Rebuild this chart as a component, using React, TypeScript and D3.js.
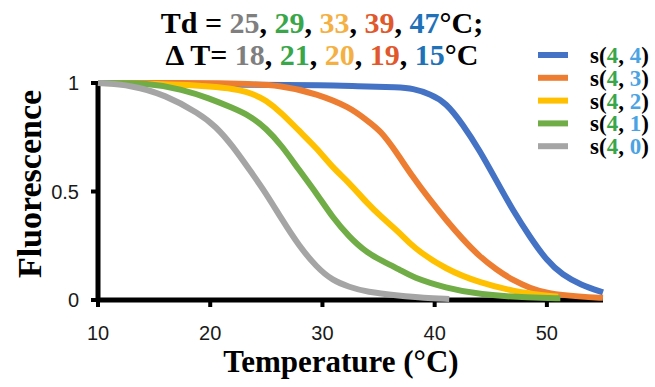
import { useEffect, useRef } from 'react';
import * as d3 from 'd3';

// melting curves
const greyT = [10, 13, 16, 19, 20.5, 22, 23.5, 25, 26.4, 27.9, 29.5, 30.9, 32.4, 33.9, 36.9, 39, 41.3];
const greyV = [1, 0.99, 0.945, 0.86, 0.8, 0.71, 0.6, 0.49, 0.37, 0.25, 0.15, 0.09, 0.06, 0.037, 0.02, 0.01, 0.005];

const greenT = [10, 14.6, 17.5, 19.9, 22, 23.5, 25, 26.4, 27.9, 29.5, 30.9, 32.4, 33.9, 35.3, 36.9, 38, 41, 44, 48.5, 51.2];
const greenV = [1, 1, 0.97, 0.93, 0.885, 0.85, 0.79, 0.71, 0.6, 0.49, 0.38, 0.29, 0.22, 0.18, 0.14, 0.105, 0.055, 0.025, 0.01, 0.008];

const yellowT = [10, 20.5, 23.5, 25, 26.4, 27.9, 29.5, 30.9, 32.4, 33.9, 35.3, 36.9, 38, 41, 44, 47, 50, 51];
const yellowV = [1, 0.99, 0.96, 0.92, 0.86, 0.78, 0.7, 0.61, 0.54, 0.45, 0.38, 0.31, 0.245, 0.14, 0.08, 0.04, 0.02, 0.015];

const orangeT = [10, 22, 26.4, 29.5, 32.4, 33.9, 35.2, 36.6, 38, 39.6, 41, 42.5, 44, 45.5, 47, 48.5, 50, 53, 55];
const orangeV = [1, 1, 0.99, 0.95, 0.89, 0.83, 0.78, 0.68, 0.57, 0.46, 0.37, 0.28, 0.2, 0.14, 0.09, 0.055, 0.03, 0.015, 0.01];

const blueT = [10, 25, 30, 33, 36.9, 38, 39.6, 41, 42.5, 44, 45.5, 47, 48.5, 50, 51.4, 53, 55];
const blueV = [1, 0.99, 0.99, 0.985, 0.98, 0.975, 0.95, 0.91, 0.81, 0.69, 0.55, 0.41, 0.29, 0.18, 0.115, 0.07, 0.035];

const seriesNames = ['s(4, 4)', 's(4, 3)', 's(4, 2)', 's(4, 1)', 's(4, 0)'];
const seriesColors = ['#4472c4', '#ed7d31', '#ffc000', '#70ad47', '#a5a5a5'];
const legendSecond = ['4', '3', '2', '1', '0'];

const tdValues = ['25', '29', '33', '39', '47'];
const dtValues = ['18', '21', '20', '19', '15'];
const titleColors = ['#7f7f7f', '#3aa64a', '#f4b042', '#e0582b', '#1f72b8'];

const xTicks = [10, 20, 30, 40, 50];
const yTicks = [0, 0.5, 1];

const serif = '"Liberation Serif", "Times New Roman", serif';
const sans = '"Liberation Sans", Arial, sans-serif';

function App() {
    const svgRef = useRef(null);
    const width = 655;
    const height = 387;

    useEffect(() => {
        const svg = d3.select(svgRef.current);
        svg.selectAll('*').remove();

        const x = d3.scaleLinear().domain([10, 55]).range([98, 603]);
        const y = d3.scaleLinear().domain([0, 1]).range([300, 83]);

        // axes
        const g = svg.append('g');
        g.append('line')
            .attr('x1', x(10)).attr('x2', x(55))
            .attr('y1', y(0)).attr('y2', y(0))
            .attr('stroke', '#000').attr('stroke-width', 5);
        g.append('line')
            .attr('x1', x(10)).attr('x2', x(10))
            .attr('y1', y(1) - 2).attr('y2', y(0) + 2)
            .attr('stroke', '#000').attr('stroke-width', 5);

        xTicks.forEach(t => {
            g.append('line')
                .attr('x1', x(t)).attr('x2', x(t))
                .attr('y1', y(0)).attr('y2', y(0) + 7)
                .attr('stroke', '#000').attr('stroke-width', 4);
            g.append('text')
                .attr('x', x(t)).attr('y', 340)
                .attr('text-anchor', 'middle')
                .attr('font-family', sans).attr('font-size', 20)
                .attr('fill', '#1a1a1a')
                .text(t);
        });
        yTicks.forEach(t => {
            g.append('line')
                .attr('x1', x(10) - 7).attr('x2', x(10))
                .attr('y1', y(t)).attr('y2', y(t))
                .attr('stroke', '#000').attr('stroke-width', 4);
            g.append('text')
                .attr('x', 79).attr('y', y(t) + 7)
                .attr('text-anchor', 'end')
                .attr('font-family', sans).attr('font-size', 20)
                .attr('fill', '#1a1a1a')
                .text(t);
        });

        // axis titles
        svg.append('text')
            .attr('x', 341).attr('y', 372)
            .attr('text-anchor', 'middle')
            .attr('font-family', serif).attr('font-weight', 'bold').attr('font-size', 31)
            .text('Temperature (°C)');
        svg.append('text')
            .attr('transform', 'translate(41,184) rotate(-90)')
            .attr('text-anchor', 'middle')
            .attr('font-family', serif).attr('font-weight', 'bold').attr('font-size', 34)
            .text('Fluorescence');

        // curves, grey drawn last (on top)
        const curves = [
            [blueT, blueV],
            [orangeT, orangeV],
            [yellowT, yellowV],
            [greenT, greenV],
            [greyT, greyV]
        ];
        const line = d3.line()
            .x(d => x(d[0]))
            .y(d => y(d[1]))
            .curve(d3.curveBasis);
        curves.forEach(([ts, vs], i) => {
            svg.append('path')
                .datum(ts.map((t, j) => [t, vs[j]]))
                .attr('d', line)
                .attr('fill', 'none')
                .attr('stroke', seriesColors[i])
                .attr('stroke-width', 6);
        });

        // title lines
        const addTitle = (yPos, prefix, vals) => {
            const t = svg.append('text')
                .attr('x', 322).attr('y', yPos)
                .attr('text-anchor', 'middle')
                .attr('font-family', serif).attr('font-weight', 'bold').attr('font-size', 30)
                .attr('fill', '#000');
            t.append('tspan').text(prefix);
            vals.forEach((v, i) => {
                t.append('tspan').attr('fill', titleColors[i]).text(v);
                t.append('tspan').text(i < vals.length - 1 ? ', ' : '');
            });
            return t;
        };
        const t1 = addTitle(33, 'Td = ', tdValues);
        t1.append('tspan').text('°C;');
        const t2 = addTitle(65, 'Δ T= ', dtValues);
        t2.append('tspan').text('°C');

        // legend
        const lg = svg.append('g');
        seriesNames.forEach((name, i) => {
            const ly = 55 + i * 22.8;
            lg.append('line')
                .attr('x1', 538).attr('x2', 568)
                .attr('y1', ly).attr('y2', ly)
                .attr('stroke', seriesColors[i]).attr('stroke-width', 6);
            const txt = lg.append('text')
                .attr('x', 590).attr('y', ly + 8)
                .attr('font-family', serif).attr('font-weight', 'bold').attr('font-size', 23)
                .attr('fill', '#000');
            txt.append('tspan').text('s(');
            txt.append('tspan').attr('fill', '#3aa64a').text('4');
            txt.append('tspan').text(', ');
            txt.append('tspan').attr('fill', '#4ba3e3').text(legendSecond[i]);
            txt.append('tspan').text(')');
        });
    }, []);

    return (
        <svg
            ref={svgRef}
            width={width}
            height={height}
            style={{ position: 'absolute', left: 0, top: 0, background: '#fff' }}
        ></svg>
    );
}

export default App;
